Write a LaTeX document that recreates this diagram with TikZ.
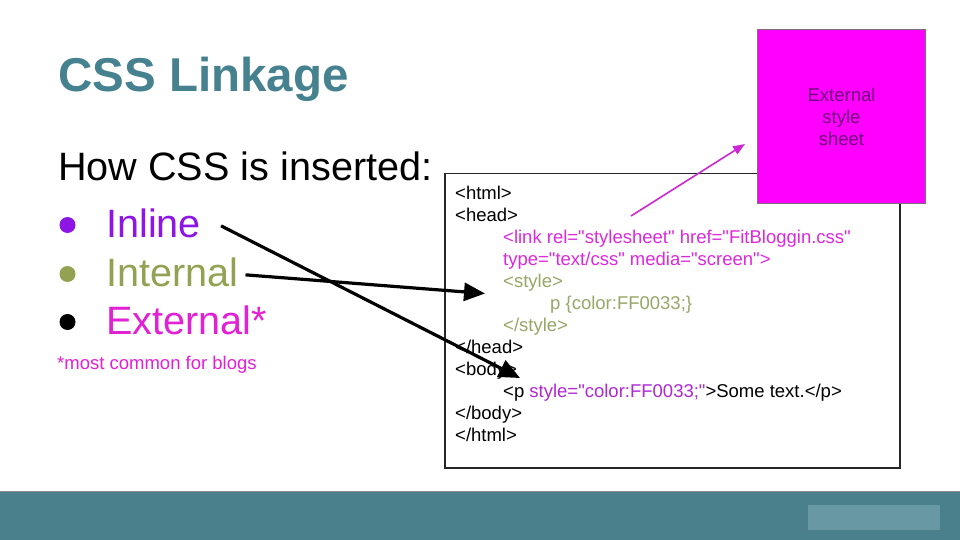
\documentclass[tikz,border=0pt]{standalone}
\usepackage{fontspec}
\setmainfont{Liberation Sans}[Ligatures=TeXOff]
\usetikzlibrary{arrows.meta}

\definecolor{slideteal}{RGB}{69,129,142}
\definecolor{barteal}{RGB}{74,128,140}
\definecolor{barpatch}{RGB}{104,152,162}
\definecolor{inlinecol}{RGB}{142,22,228}
\definecolor{internalcol}{RGB}{146,162,82}
\definecolor{externalcol}{RGB}{226,32,212}
\definecolor{linkcol}{RGB}{222,40,222}
\definecolor{stylecol}{RGB}{152,166,104}
\definecolor{attrcol}{RGB}{176,40,212}
\definecolor{sheetfill}{RGB}{255,0,255}
\definecolor{sheettext}{RGB}{112,0,124}
\definecolor{sheetedge}{RGB}{128,110,128}
\definecolor{linkarrow}{RGB}{204,40,210}

\begin{document}
\begin{tikzpicture}[x=1pt,y=-1pt,
	txt/.style={anchor=base west, inner sep=0pt},
	bigline/.style={txt, font=\fontsize{39.6}{47}\selectfont},
	codeline/.style={txt, font=\fontsize{18.5}{22}\selectfont},
	bulletdot/.style={circle, inner sep=0pt, minimum size=16pt},
	pointer/.style={line width=3.2pt, -{Triangle[length=21pt,width=18pt]}}]

	\useasboundingbox (0,0) rectangle (960,540);
	\fill[white] (0,0) rectangle (960,540);

	% title and list
	\node[txt, text=slideteal, font=\fontsize{47.5}{57}\selectfont\bfseries] (title) at (58,92) {CSS Linkage};
	\node[bigline] (how) at (58,181) {How CSS is inserted:};

	\node[bulletdot, fill=inlinecol] (dotinline) at (67.5,225) {};
	\node[bulletdot, fill=internalcol] (dotinternal) at (67.5,274) {};
	\node[bulletdot, fill=black] (dotexternal) at (67.5,322) {};
	\node[bigline, text=inlinecol] (inline) at (106,237) {Inline};
	\node[bigline, text=internalcol] (internal) at (106,286) {Internal};
	\node[bigline, text=externalcol] (external) at (106,334) {External*};
	\node[txt, text=externalcol, font=\fontsize{18.5}{22}\selectfont] (note) at (57,369) {*most common for blogs};

	% html code box
	\draw[line width=1.6pt, black!85] (445,173.5) rectangle (900,468);
	\node[codeline] (c0) at (455,199) {<html>};
	\node[codeline] (c1) at (455,221) {<head>};
	\node[codeline, text=linkcol] (c2) at (503,243.1) {<link rel="stylesheet" href="FitBloggin.css"};
	\node[codeline, text=linkcol] (c3) at (503,265.2) {type="text/css" media="screen">};
	\node[codeline, text=stylecol] (c4) at (503,287.2) {<style>};
	\node[codeline, text=stylecol] (c5) at (550,309.3) {p \{color:FF0033;\}};
	\node[codeline, text=stylecol] (c6) at (503,331.3) {</style>};
	\node[codeline] (c7) at (455,353.4) {</head>};
	\node[codeline] (c8) at (455,375.4) {<body>};
	\node[codeline] (c9) at (503,397.5) {<p \textcolor{attrcol}{style="color:FF0033;"}>Some text.</p>};
	\node[codeline] (c10) at (455,419.5) {</body>};
	\node[codeline] (c11) at (455,441.6) {</html>};

	% external sheet
	\node[draw=sheetedge, line width=1pt, fill=sheetfill, minimum width=168pt, minimum height=173pt,
		align=center, text=sheettext, font=\fontsize{18.5}{22}\selectfont] (sheet) at (841.5,116.5) {External\\style\\sheet};

	% arrows
	\coordinate (inlinetip) at (520,378);
	\coordinate (internaltip) at (485,293.5);
	\coordinate (linkfrom) at (631,216);
	\coordinate (linkto) at (745,144);
	\draw[pointer] ([xshift=20pt,yshift=-3pt]inline.east) -- (inlinetip);
	\draw[pointer] ([xshift=7pt,yshift=-3pt]internal.east) -- (internaltip);
	\draw[linkarrow, line width=1.6pt, -{Triangle[length=12pt,width=9pt]}] (linkfrom) -- (linkto);

	% footer bar
	\fill[barteal] (0,491) rectangle (960,540);
	\draw[black!45, line width=0.8pt] (0,491) -- (960,491);
	\fill[barpatch] (808,505) rectangle (940,530);
\end{tikzpicture}
\end{document}
